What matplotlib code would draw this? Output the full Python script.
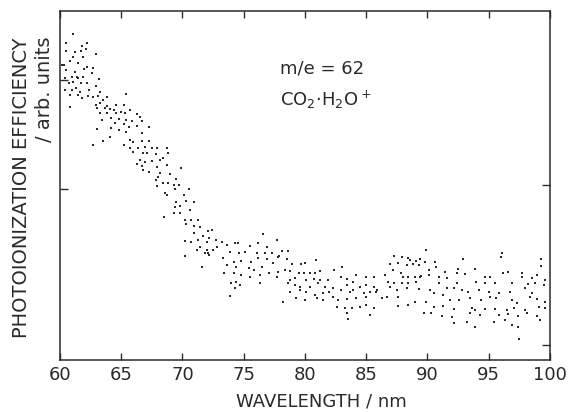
import matplotlib
matplotlib.use("Agg")
import matplotlib.pyplot as plt

# m/e = 62 photoionization efficiency curve, wavelength in nm, signal in arb. units
wl_rise = [61.1, 60.5, 62.2, 61.8, 60.5, 61.2, 61.7, 62.1, 62.9, 61.1, 61.9, 60.8, 61.5, 60.3,
           62.2, 62.7, 60.5, 61.2, 62.0, 62.6, 61.4, 61.0, 60.4, 61.9, 61.5, 63.2, 61.1, 60.7,
           61.7, 62.2, 62.9, 60.4, 61.0, 61.3, 61.6, 62.4, 63.3, 60.8, 61.5, 62.3, 62.7, 63.1,
           63.8, 63.5, 63.3, 61.8, 60.8, 65.4, 62.9, 63.8, 64.6, 65.2, 63.0, 63.7, 64.1, 64.4,
           65.0, 65.7, 63.3, 63.8, 64.6, 65.3, 66.3, 66.5, 63.4, 64.2, 64.8, 65.4, 65.9, 66.7,
           64.5, 65.2, 65.6, 66.3, 67.3, 63.0, 64.2, 64.8, 65.4, 66.7, 64.1, 62.7, 63.5, 65.7,
           66.0, 66.7, 67.3, 65.2, 65.7, 66.4, 66.9, 67.5, 67.9, 68.7, 66.0, 66.8, 67.1, 67.8,
           68.4, 68.8, 66.5, 66.9, 67.5, 68.2, 66.3, 66.7, 67.9, 68.7, 66.8, 67.3, 68.2, 68.0,
           69.0, 69.9, 67.8, 68.4, 68.8, 69.5, 69.3, 67.9, 69.7, 68.6, 69.4, 70.5, 70.1, 68.7,
           69.5, 69.8, 70.3, 69.4, 70.9, 70.6, 68.5, 69.3, 69.8, 70.2, 70.7, 70.3, 71.3, 70.9,
           71.4, 72.1, 72.4, 70.9, 71.7, 72.2, 70.2, 70.7, 71.3, 72.0, 72.7, 71.4, 72.0, 72.5,
           72.8, 71.8, 72.2, 70.2, 71.2, 71.6, 72.1, 60.2]
sig_rise = [326, 317, 317, 314, 309, 308, 309, 311, 306, 303, 303, 299, 297, 295,
            293, 292, 290, 288, 291, 287, 283, 283, 282, 283, 282, 281, 278, 277,
            277, 277, 274, 270, 270, 272, 268, 270, 268, 265, 265, 264, 263, 264,
            263, 260, 257, 262, 253, 266, 255, 254, 255, 255, 252, 252, 251, 250,
            248, 250, 247, 247, 247, 247, 246, 243, 240, 242, 241, 240, 239, 239,
            237, 236, 233, 234, 233, 231, 232, 230, 228, 227, 223, 215, 219, 220,
            218, 219, 219, 215, 212, 212, 213, 212, 212, 212, 208, 207, 207, 206,
            202, 207, 200, 198, 199, 200, 196, 194, 193, 195, 190, 188, 187, 183,
            186, 192, 180, 177, 177, 181, 175, 174, 175, 167, 171, 171, 165, 165,
            158, 154, 159, 153, 158, 150, 143, 147, 147, 140, 140, 136, 140, 134,
            133, 129, 130, 127, 124, 122, 119, 118, 120, 118, 120, 113, 110, 110,
            113, 107, 105, 104, 110, 93, 107, 295]

wl_mid = [73.2, 73.6, 74.3, 74.5, 76.6, 77.7, 75.5, 76.2, 76.9, 78.1, 78.6, 73.9, 74.6, 75.1,
          76.1, 76.7, 77.3, 77.9, 78.5, 73.3, 74.2, 74.8, 75.6, 76.2, 76.9, 77.4, 77.8, 78.9,
          79.7, 80.0, 80.9, 73.6, 74.4, 75.4, 75.8, 76.5, 77.1, 77.8, 78.4, 78.8, 79.5, 79.9,
          80.4, 80.8, 81.2, 82.4, 83.0, 73.4, 74.2, 74.8, 75.5, 76.3, 77.7, 78.8, 79.2, 80.1,
          80.7, 81.2, 81.9, 82.9, 83.4, 84.2, 85.0, 85.6, 74.0, 74.4, 74.7, 76.3, 78.6, 79.2,
          79.6, 80.4, 81.1, 81.6, 82.3, 83.4, 83.9, 84.5, 85.0, 85.6, 74.3, 78.8, 79.6, 80.1,
          80.8, 81.5, 82.0, 82.9, 83.7, 83.9, 84.8, 85.3, 85.9, 73.9, 79.3, 80.0, 81.0, 81.5,
          82.3, 82.7, 83.4, 84.2, 85.0, 78.2, 82.6, 83.3, 83.8, 84.5, 85.0, 85.6, 83.4, 83.5,
          85.3]
sig_mid = [118, 115, 117, 117, 126, 120, 114, 117, 113, 109, 109, 108, 107, 108,
           107, 107, 107, 104, 101, 102, 98, 99, 98, 102, 101, 97, 103, 96,
           96, 97, 100, 95, 93, 92, 90, 93, 87, 88, 90, 89, 87, 87,
           87, 87, 89, 90, 93, 87, 87, 85, 83, 85, 83, 80, 82, 80,
           81, 80, 80, 83, 81, 85, 83, 83, 77, 78, 75, 77, 77, 75,
           73, 73, 77, 73, 72, 75, 78, 73, 75, 73, 72, 68, 70, 68,
           65, 67, 68, 70, 68, 70, 67, 68, 70, 64, 62, 60, 62, 60,
           63, 60, 61, 62, 63, 58, 53, 52, 52, 53, 55, 52, 47, 41,
           45]

wl_tail = [89.9, 87.3, 87.9, 88.4, 88.6, 89.1, 89.4, 89.8, 90.6, 92.9, 96.1, 96.0, 99.3, 99.3,
           86.9, 87.6, 88.3, 88.8, 89.3, 90.7, 92.5, 93.9, 87.2, 90.1, 91.4, 92.4, 93.1, 96.2,
           96.6, 97.7, 98.9, 86.5, 87.8, 88.0, 88.4, 89.0, 89.4, 89.5, 90.1, 90.9, 91.6, 94.7,
           95.1, 97.7, 98.5, 86.8, 87.3, 87.9, 88.4, 89.1, 90.9, 92.4, 94.0, 94.7, 95.5, 96.9,
           98.2, 98.8, 99.6, 99.5, 85.8, 86.9, 87.5, 88.3, 89.3, 90.2, 90.5, 91.6, 92.2, 92.8,
           93.3, 94.2, 95.0, 95.8, 96.7, 98.0, 98.5, 86.3, 86.7, 87.6, 89.0, 89.9, 91.3, 91.8,
           92.6, 93.5, 94.4, 95.1, 95.6, 96.9, 97.3, 98.4, 98.9, 99.6, 87.6, 88.4, 90.5, 91.3,
           92.2, 93.6, 93.9, 94.7, 95.5, 96.5, 97.1, 98.0, 99.1, 99.6, 89.7, 90.3, 91.2, 92.0,
           93.5, 94.3, 95.8, 96.6, 97.4, 98.1, 98.9, 92.2, 93.2, 93.9, 95.4, 96.3, 96.9, 97.4,
           99.2, 97.5]
sig_tail = [110, 104, 103, 102, 100, 99, 101, 98, 98, 101, 107, 103, 101, 94,
            96, 97, 95, 96, 95, 93, 91, 91, 90, 90, 88, 87, 86, 87,
            88, 87, 85, 85, 87, 83, 83, 83, 83, 84, 85, 83, 82, 83,
            83, 83, 82, 78, 77, 77, 77, 78, 77, 77, 78, 77, 77, 77,
            76, 77, 80, 75, 68, 73, 70, 72, 71, 70, 67, 72, 72, 70,
            68, 70, 68, 67, 68, 72, 67, 62, 63, 63, 58, 58, 65, 60,
            60, 62, 60, 63, 62, 60, 57, 63, 61, 58, 54, 55, 53, 54,
            51, 52, 50, 51, 51, 50, 52, 50, 53, 52, 47, 47, 44, 43,
            47, 45, 45, 46, 44, 47, 44, 37, 38, 33, 38, 40, 35, 33,
            40, 21]

x_ticks = [60, 65, 70, 75, 80, 85, 90, 95, 100]
left_ticks = [280, 171]
right_ticks = [175, 15]

ink = "#2a2a2a"
plt.rcParams["font.family"] = ["DejaVu Sans"]

fig = plt.figure(figsize=(5.68, 4.12), dpi=100)
ax = fig.add_axes([0.1056, 0.1262, 0.8627, 0.8471])

for wl, sig in [(wl_rise, sig_rise), (wl_mid, sig_mid), (wl_tail, sig_tail)]:
    ax.plot(wl, sig, "s", ms=1.9, mew=0, color=ink)

ax.set_xlim(60, 100)
ax.set_ylim(0, 349)
ax.set_xticks(x_ticks)
ax.set_yticks(left_ticks)
ax.set_yticklabels([])
ax.tick_params(axis="x", direction="in", length=5, width=1, top=True,
               labelsize=13, labelcolor=ink, color=ink, pad=4)
ax.tick_params(axis="y", direction="in", length=6, width=1, color=ink)
for s in ax.spines.values():
    s.set_linewidth(1.1)
    s.set_color(ink)

# right-hand ticks sit at different heights
ax_r = ax.twinx()
ax_r.set_ylim(0, 349)
ax_r.set_yticks(right_ticks)
ax_r.set_yticklabels([])
ax_r.tick_params(axis="y", direction="in", length=6, width=1, color=ink)
for s in ax_r.spines.values():
    s.set_visible(False)

ax.text(0.45, 0.82, "m/e = 62", transform=ax.transAxes, fontsize=13, color=ink)
ax.text(0.45, 0.73, "CO$_2$·H$_2$O$^+$", transform=ax.transAxes, fontsize=13, color=ink)

fig.text(321 / 568, 1 - 401 / 412, "WAVELENGTH / nm", ha="center", va="center",
         fontsize=13, color=ink)
fig.text(22 / 568, 1 - 37 / 412, "PHOTOIONIZATION EFFICIENCY", rotation=90,
         ha="center", va="top", fontsize=14, color=ink)
fig.text(45 / 568, 1 - 37 / 412, "/ arb. units", rotation=90,
         ha="center", va="top", fontsize=14, color=ink)

fig.savefig("out.png", dpi=100)
